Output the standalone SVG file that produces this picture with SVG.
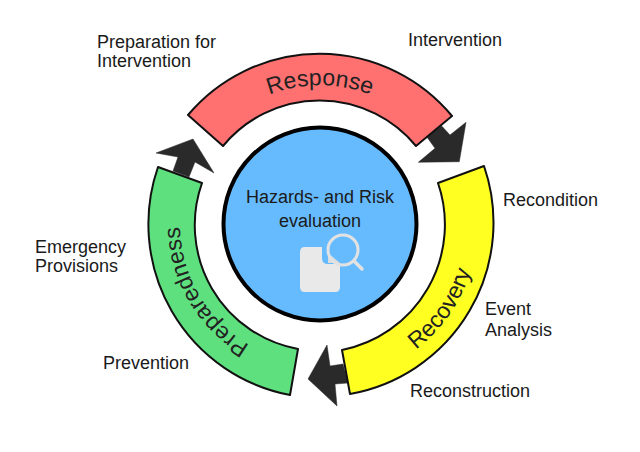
<svg xmlns="http://www.w3.org/2000/svg" width="640" height="452" viewBox="0 0 640 452">
<style>
text{font-family:"Liberation Sans",Arial,sans-serif;fill:#1a1a1a}
.l{font-size:18px}
.c{font-size:23px;fill:#222}
.seg{stroke:#111;stroke-width:2;stroke-linejoin:round}
.arr{fill:#2a2a2a;stroke:#2a2a2a;stroke-width:.5}
.ic{fill:none;stroke:#e2e2e2}
</style>
<defs>
<path id="pR" d="M206 144A140 140 0 0 1 434 144"/>
<path id="pY" d="M374 372.5A158 158 0 0 0 478 224"/>
<path id="pG" d="M295.7 361.9A140 140 0 0 1 187.6 178.4"/>
</defs>
<rect width="640" height="452" fill="#fff"/>
<g id="connectors">
<polygon class="arr" points="441.7,126 450,135 466,122.3 459.3,161.7 418.3,162.3 435,148.3 426,135.7"/>
<polygon class="arr" points="343,364 330,366 327,345 308,379 337,406 335,384 348,383"/>
<polygon class="arr" points="173,171 178,157 156,153 193,139 214,173 195,162 189,177"/>
</g>
<g id="response">
<path class="seg" fill="#ff7070" d="M188 115A172 172 0 0 1 452 116L416 146A125 125 0 0 0 223 146Z"/>
<text class="c"><textPath href="#pR" startOffset="50%" text-anchor="middle">Response</textPath></text>
</g>
<g id="recovery">
<path class="seg" fill="#ffff22" d="M484 166A174 174 0 0 1 350 394L342 350A128 128 0 0 0 438 183Z"/>
<text class="c"><textPath href="#pY" startOffset="50%" text-anchor="middle">Recovery</textPath></text>
</g>
<g id="preparedness">
<path class="seg" fill="#5fe07f" d="M290 395A174 174 0 0 1 158 167L202 183A126 126 0 0 0 298 349Z"/>
<text class="c"><textPath href="#pG" startOffset="50%" text-anchor="middle">Preparedness</textPath></text>
</g>
<g id="hazards">
<circle cx="320" cy="224" r="96.5" fill="#66bbff" stroke="#000" stroke-width="4"/>
<text class="l" x="320" y="203" text-anchor="middle">Hazards- and Risk</text>
<text class="l" x="320" y="227" text-anchor="middle">evaluation</text>
<path d="M305 247h17v11q0 6 6 6h12v23q0 5-5 5h-30q-5 0-5-5v-35q0-5 5-5z" fill="#e9e9e9"/>
<path d="M328 253L340 263h-12z" fill="#dcdcdc"/>
<circle class="ic" cx="343" cy="250" r="15" stroke-width="3"/>
<path class="ic" d="M354 261L362 269" stroke-width="3.5" stroke-linecap="round"/>
</g>
<g id="labels">
<text class="l" x="97" y="48">Preparation for</text>
<text class="l" x="97" y="67">Intervention</text>
<text class="l" x="408" y="46">Intervention</text>
<text class="l" x="503" y="206">Recondition</text>
<text class="l" x="485" y="315">Event</text>
<text class="l" x="485" y="336">Analysis</text>
<text class="l" x="410" y="397">Reconstruction</text>
<text class="l" x="103" y="369">Prevention</text>
<text class="l" x="35" y="253">Emergency</text>
<text class="l" x="35" y="272">Provisions</text>
</g>
</svg>
